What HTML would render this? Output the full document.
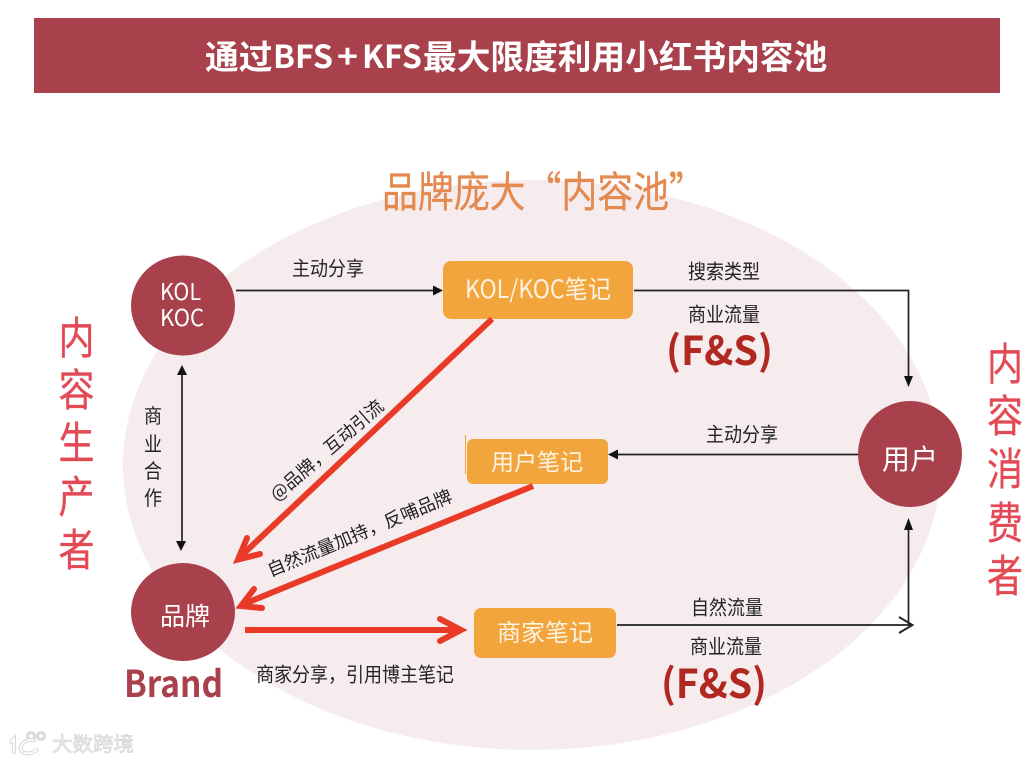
<!DOCTYPE html>
<html><head><meta charset="utf-8">
<style>
html,body{margin:0;padding:0;background:#fff;width:1034px;height:762px;overflow:hidden}
svg{display:block}
text{font-family:"Noto Sans CJK SC","Liberation Sans",sans-serif}
</style></head><body>
<svg width="1034" height="762" viewBox="0 0 1034 762" xmlns="http://www.w3.org/2000/svg">
<rect width="1034" height="762" fill="#fff"/>
<rect x="34" y="18" width="966" height="75" fill="#a9414d"/>
<g font-weight="700" fill="#fff" font-size="33.700">
<text x="205" y="69">通过</text>
<text x="273" y="68" font-size="32" textLength="60" lengthAdjust="spacingAndGlyphs">BFS</text>
<text x="337" y="68" font-size="32" textLength="21" lengthAdjust="spacingAndGlyphs">+</text>
<text x="362" y="68" font-size="32" textLength="60" lengthAdjust="spacingAndGlyphs">KFS</text>
<text x="423" y="69">最大限度利用小红书内容池</text>
</g>
<ellipse cx="532" cy="465" rx="409" ry="285" fill="#f6ecee"/>
<text transform="translate(382,207) scale(.92,1.08)" font-size="39" fill="#e4894f" stroke="#e4894f" stroke-width=".3">品牌庞大“内容池”</text>

<g fill="#e34a55" font-size="40" text-anchor="middle" stroke="#e34a55" stroke-width=".3">
<text transform="translate(76.500,353.500) scale(.9,1.1)">内</text>
<text transform="translate(76.500,405.500) scale(.9,1.1)">容</text>
<text transform="translate(76.500,458.500) scale(.9,1.1)">生</text>
<text transform="translate(76.500,512.500) scale(.9,1.1)">产</text>
<text transform="translate(76.500,565.500) scale(.9,1.1)">者</text>
<text transform="translate(1005,379.500) scale(.9,1.1)">内</text>
<text transform="translate(1005,431.500) scale(.9,1.1)">容</text>
<text transform="translate(1005,484.500) scale(.9,1.1)">消</text>
<text transform="translate(1005,538.500) scale(.9,1.1)">费</text>
<text transform="translate(1005,591.500) scale(.9,1.1)">者</text>
</g>

<ellipse cx="183" cy="305.500" rx="52" ry="50" fill="#a9414d"/>
<ellipse cx="183" cy="612" rx="52" ry="49" fill="#a9414d"/>
<ellipse cx="910" cy="454" rx="52" ry="53" fill="#a9414d"/>
<text x="160" y="300" font-size="23" fill="#fff" textLength="41" lengthAdjust="spacingAndGlyphs">KOL</text>
<text x="160" y="326" font-size="23" fill="#fff" textLength="44" lengthAdjust="spacingAndGlyphs">KOC</text>
<text x="185" y="625" font-size="25" fill="#fff" text-anchor="middle">品牌</text>
<text x="910" y="469" font-size="28" fill="#fff" text-anchor="middle">用户</text>

<rect x="443" y="261" width="190" height="58" rx="8" fill="#f2a53c"/>
<rect x="467" y="439" width="141" height="45" rx="6" fill="#f2a53c"/>
<rect x="474" y="608" width="142" height="50" rx="7" fill="#f2a53c"/>
<line x1="465.500" y1="435" x2="465.500" y2="474" stroke="#f2a53c" stroke-width="1"/>
<text x="465" y="298" font-size="25" fill="#fdf3e2" textLength="146" lengthAdjust="spacingAndGlyphs">KOL/KOC笔记</text>
<text x="537" y="470" font-size="23" fill="#fdf3e2" text-anchor="middle">用户笔记</text>
<text x="545" y="641" font-size="24" fill="#fdf3e2" text-anchor="middle">商家笔记</text>

<!-- black connectors -->
<g stroke="#222" stroke-width="1.700" fill="none">
<line x1="236" y1="290.500" x2="436" y2="290.500"/>
<line x1="182" y1="372" x2="182" y2="544"/>
<polyline points="634,290.500 908.500,290.500 908.500,380"/>
<line x1="858" y1="454.500" x2="616" y2="454.500"/>
<polyline points="617,625 912,625"/>
<polyline points="908.500,625 908.500,526"/>
<polyline points="899,617 912.500,625 899,633" stroke-width="1.900"/>
</g>
<g fill="#111">
<polygon points="443,290.500 433,285.500 433,295.500"/>
<polygon points="182,365 177,375 187,375"/>
<polygon points="181,551 176,541 186,541"/>
<polygon points="908.500,387 904,376 913,376"/>
<polygon points="608,454.500 618,449.500 618,459.500"/>
<polygon points="908.500,518 904,530 913,530"/>
</g>

<!-- red connectors -->
<g stroke="#e83a26" stroke-width="6" fill="none" stroke-linecap="round" stroke-linejoin="miter">
<line x1="492" y1="319" x2="240" y2="557" stroke-linecap="butt"/>
<polyline points="247,538 238,559.500 260,554"/>
<line x1="533" y1="486" x2="244" y2="604" stroke-linecap="butt"/>
<polyline points="254,589 241,606 262,608"/>
<line x1="245" y1="630" x2="460" y2="630" stroke-linecap="butt"/>
<polyline points="440,619 461,630 440,641"/>
</g>

<!-- labels -->
<g fill="#222" font-size="18" text-anchor="middle">
<text transform="translate(328,275.500) scale(1,1.100)">主动分享</text>
<text transform="translate(724,278.500) scale(1,1.100)">搜索类型</text>
<text transform="translate(724,321.500) scale(1,1.100)">商业流量</text>
<text transform="translate(742,441.500) scale(1,1.100)">主动分享</text>
<text transform="translate(727,614.500) scale(1,1.100)">自然流量</text>
<text transform="translate(726,653.500) scale(1,1.100)">商业流量</text>
<text transform="translate(355,681.500) scale(1,1.100)">商家分享，引用博主笔记</text>
<text transform="translate(153,423) scale(1,1.100)">商</text>
<text transform="translate(153,451) scale(1,1.100)">业</text>
<text transform="translate(153,478) scale(1,1.100)">合</text>
<text transform="translate(153,505) scale(1,1.100)">作</text>
<text transform="translate(331,455) rotate(-41)">@品牌，互动引流</text>
<text transform="translate(362,539) rotate(-22.500)">自然流量加持，反哺品牌</text>
</g>

<text x="124" y="697" font-size="37" font-weight="700" fill="#a9414d" textLength="99" lengthAdjust="spacingAndGlyphs">Brand</text>
<text x="666" y="365" font-size="40" font-weight="700" fill="#b0281f" textLength="107" lengthAdjust="spacingAndGlyphs">(F&amp;S)</text>
<text x="661" y="698" font-size="40" font-weight="700" fill="#b0281f" textLength="106" lengthAdjust="spacingAndGlyphs">(F&amp;S)</text>

<!-- watermark -->
<g stroke="#d9d9d9" stroke-width="4" fill="none" stroke-linecap="round">
<path d="M11,742 L14,739 V752 M34,740 C25,739 19,745 21,750 C24,755 31,754 37,750"/>
<circle cx="31" cy="736" r="3.500" stroke-width="3"/>
<circle cx="41" cy="736" r="3.500" stroke-width="3"/>
</g>
<g stroke="#fff" stroke-width="1.800" fill="none" stroke-linecap="round">
<path d="M11,742 L14,739 V752 M34,740 C25,739 19,745 21,750 C24,755 31,754 37,750"/>
</g>
<text x="52" y="751" font-size="20" fill="#eeeeee" stroke="#d4d4d4" stroke-width=".7" textLength="82" lengthAdjust="spacingAndGlyphs">大数跨境</text>
</svg>
</body></html>
